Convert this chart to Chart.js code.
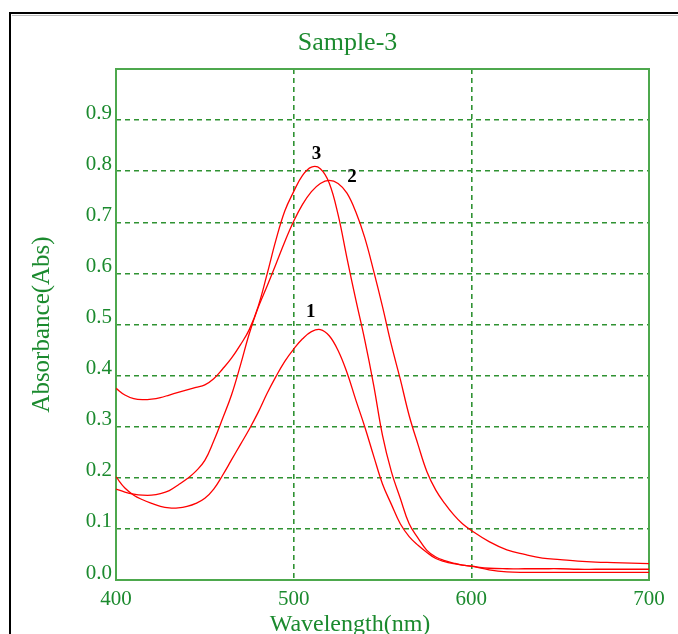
<!DOCTYPE html>
<html>
<head>
<meta charset="utf-8">
<script src="https://cdn.jsdelivr.net/npm/chart.js@4/dist/chart.umd.min.js"></script>
<style>
  html, body { margin: 0; padding: 0; background: #fff; }
  canvas { display: block; }
</style>
</head>
<body>
<canvas id="absChart" width="678" height="634"></canvas>
<script>
// wavelength grid (nm) and absorbance
const wavelengths = [400, 405, 410, 415, 420, 425, 430, 435, 440, 445, 450, 455, 460, 465, 470, 475, 480, 485, 490, 495,
    500, 505, 510, 515, 520, 525, 530, 535, 540, 545, 550, 555, 560, 565, 570, 575, 580, 585, 590, 595, 600,
    610, 620, 630, 640, 650, 660, 670, 680, 690, 700];

const sample1 = [0.202, 0.180, 0.166, 0.157, 0.150, 0.144, 0.141, 0.141, 0.144, 0.150, 0.160, 0.178, 0.205, 0.235, 0.265, 0.295, 0.328, 0.365, 0.398, 0.428,
    0.452, 0.472, 0.486, 0.490, 0.478, 0.449, 0.406, 0.352, 0.300, 0.243, 0.188, 0.148, 0.110, 0.085, 0.068, 0.054, 0.042, 0.036, 0.032, 0.029, 0.027,
    0.020, 0.016, 0.015, 0.015, 0.015, 0.015, 0.015, 0.015, 0.015, 0.015];

const sample2 = [0.178, 0.172, 0.168, 0.166, 0.166, 0.169, 0.175, 0.186, 0.198, 0.213, 0.234, 0.272, 0.316, 0.362, 0.420, 0.482, 0.533, 0.575, 0.618, 0.662,
    0.702, 0.735, 0.760, 0.776, 0.782, 0.776, 0.757, 0.720, 0.670, 0.605, 0.535, 0.460, 0.393, 0.322, 0.265, 0.212, 0.176, 0.150, 0.128, 0.110, 0.097,
    0.075, 0.059, 0.050, 0.043, 0.040, 0.037, 0.035, 0.034, 0.033, 0.032];

const sample3 = [0.375, 0.362, 0.355, 0.353, 0.354, 0.357, 0.362, 0.367, 0.372, 0.377, 0.382, 0.394, 0.413, 0.434, 0.460, 0.490, 0.535, 0.598, 0.665, 0.722,
    0.760, 0.792, 0.808, 0.805, 0.777, 0.715, 0.630, 0.548, 0.470, 0.382, 0.283, 0.212, 0.160, 0.110, 0.082, 0.058, 0.045, 0.038, 0.033, 0.029, 0.027,
    0.023, 0.022, 0.022, 0.022, 0.022, 0.021, 0.021, 0.021, 0.021, 0.021];

// curve numbers written next to the peaks (in data units)
const curveNames = ['1', '2', '3'];
const nameX = [509.6, 532.8, 512.9];
const nameY = [0.525, 0.7885, 0.834];

const green = '#1b8a2e';
const gridGreen = '#2f9232';
const serif = "'Liberation Serif', 'Times New Roman', serif";

const toPoints = ys => wavelengths.map((w, i) => ({ x: w, y: ys[i] }));

const lineStyle = {
    borderColor: '#ff0000',
    backgroundColor: '#ff0000',
    borderWidth: 1.3,
    pointRadius: 0,
    fill: false,
    tension: 0.4
};

// frame, plot box, title, x title and curve numbers
const decorations = {
    id: 'decorations',
    beforeDraw(chart) {
        const ctx = chart.ctx;
        ctx.save();
        ctx.fillStyle = '#fff';
        ctx.fillRect(0, 0, chart.width, chart.height);
        ctx.strokeStyle = '#000';
        ctx.lineWidth = 2;
        ctx.beginPath();
        ctx.moveTo(10, chart.height);
        ctx.lineTo(10, 13);
        ctx.lineTo(chart.width, 13);
        ctx.stroke();
        ctx.strokeStyle = '#bbb';
        ctx.lineWidth = 1;
        ctx.beginPath();
        ctx.moveTo(12, 15.5);
        ctx.lineTo(chart.width, 15.5);
        ctx.stroke();
        ctx.restore();
    },
    beforeDatasetsDraw(chart) {
        const { ctx, chartArea: a } = chart;
        ctx.save();
        ctx.strokeStyle = '#4da84d';
        ctx.lineWidth = 2;
        ctx.strokeRect(a.left, a.top, a.right - a.left, a.bottom - a.top);
        ctx.restore();
    },
    afterDraw(chart) {
        const ctx = chart.ctx;
        const xs = chart.scales.x, ys = chart.scales.y;
        ctx.save();
        ctx.fillStyle = green;
        ctx.textAlign = 'center';
        ctx.textBaseline = 'alphabetic';
        ctx.font = '26px ' + serif;
        ctx.fillText('Sample-3', 347.5, 50);
        ctx.font = '24px ' + serif;
        ctx.fillText('Wavelength(nm)', 350, 631);

        ctx.fillStyle = '#000';
        ctx.textBaseline = 'middle';
        ctx.font = 'bold 19px ' + serif;
        curveNames.forEach((n, i) => {
            ctx.fillText(n, xs.getPixelForValue(nameX[i]), ys.getPixelForValue(nameY[i]));
        });
        ctx.restore();
    }
};

const config = {
    type: 'line',
    data: {
        datasets: [
            { label: '1', data: toPoints(sample1), ...lineStyle },
            { label: '2', data: toPoints(sample2), ...lineStyle },
            { label: '3', data: toPoints(sample3), ...lineStyle }
        ]
    },
    options: {
        responsive: false,
        animation: false,
        devicePixelRatio: 1,
        layout: { padding: { left: 17, top: 69, right: 29, bottom: 0 } },
        plugins: {
            legend: { display: false },
            title: { display: false },
            tooltip: { enabled: false }
        },
        scales: {
            x: {
                type: 'linear',
                min: 400,
                max: 700,
                afterFit: scale => { scale.height = 54; },
                ticks: {
                    stepSize: 100,
                    padding: 7,
                    color: green,
                    font: { family: serif, size: 21 }
                },
                grid: { color: gridGreen, lineWidth: 1.6, drawTicks: false },
                border: { display: false, dash: [5, 4] }
            },
            y: {
                min: 0,
                max: 1.0,
                afterFit: scale => { scale.width = 99; },
                ticks: {
                    stepSize: 0.1,
                    padding: 4,
                    labelOffset: -7,
                    color: green,
                    font: { family: serif, size: 21 },
                    callback: v => (v > 0.95 ? '' : v.toFixed(1))
                },
                grid: { color: gridGreen, lineWidth: 1.6, drawTicks: false },
                border: { display: false, dash: [5, 4] },
                title: {
                    display: true,
                    text: 'Absorbance(Abs)',
                    color: green,
                    font: { family: serif, size: 25 },
                    padding: { top: 10, bottom: 0 }
                }
            }
        }
    },
    plugins: [decorations]
};

const absChart = new Chart(document.getElementById('absChart'), config);
</script>
</body>
</html>
